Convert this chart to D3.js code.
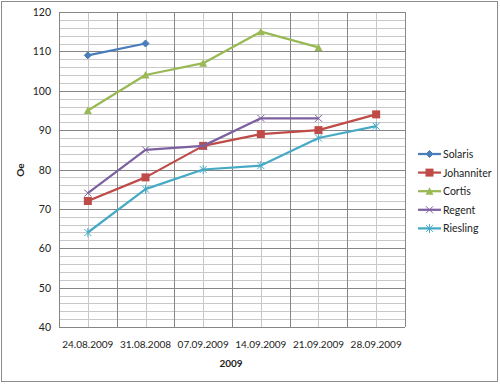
<!DOCTYPE html>
<html>
<head>
<meta charset="utf-8">
<script src="https://cdn.jsdelivr.net/npm/d3@7"></script>
<style>
  body { margin: 0; background: #fff; }
  svg { display: block; font-family: Lato, "Open Sans", sans-serif; }
</style>
</head>
<body>
<svg id="chart" width="500" height="384"></svg>
<script>
// Data
const dates = ['24.08.2009', '31.08.2008', '07.09.2009', '14.09.2009', '21.09.2009', '28.09.2009'];
const solaris = [109, 112, null, null, null, null];
const johanniter = [72, 78, 86, 89, 90, 94];
const cortis = [95, 104, 107, 115, 111, null];
const regent = [74, 85, 86, 93, 93, null];
const riesling = [64, 75, 80, 81, 88, 91];
const seriesNames = ['Solaris', 'Johanniter', 'Cortis', 'Regent', 'Riesling'];
const yTicks = [40, 50, 60, 70, 80, 90, 100, 110, 120];

const series = [
    {name: 'Solaris', values: solaris, color: '#4a7ebb', marker: 'diamond'},
    {name: 'Johanniter', values: johanniter, color: '#be4b48', marker: 'square'},
    {name: 'Cortis', values: cortis, color: '#98b954', marker: 'triangle'},
    {name: 'Regent', values: regent, color: '#7d60a0', marker: 'x'},
    {name: 'Riesling', values: riesling, color: '#46aac5', marker: 'star'}
];

const svg = d3.select('#chart');

// outer border
svg.append('rect')
    .attr('x', 1.5).attr('y', 1.5)
    .attr('width', 496).attr('height', 380)
    .attr('fill', '#fff')
    .attr('stroke', '#8c8c8c');

const margin = {left: 59, top: 12, right: 405, bottom: 327};

const x = d3.scaleBand()
    .domain(dates)
    .range([margin.left, margin.right]);

const y = d3.scaleLinear()
    .domain([40, 120])
    .range([margin.bottom, margin.top]);

const g = svg.append('g');

// minor horizontal gridlines
g.selectAll('.hminor')
    .data(d3.range(40, 121, 2).filter(v => v % 10 != 0))
    .enter().append('line')
    .attr('x1', margin.left).attr('x2', margin.right)
    .attr('y1', d => Math.round(y(d)) + 0.5).attr('y2', d => Math.round(y(d)) + 0.5)
    .attr('stroke', '#c8c8c8');

// minor vertical gridlines (category centers)
g.selectAll('.vminor')
    .data(dates)
    .enter().append('line')
    .attr('x1', d => Math.round(x(d) + x.bandwidth() / 2) + 0.5)
    .attr('x2', d => Math.round(x(d) + x.bandwidth() / 2) + 0.5)
    .attr('y1', margin.top).attr('y2', margin.bottom)
    .attr('stroke', '#c8c8c8');

// major horizontal gridlines
g.selectAll('.hmajor')
    .data(yTicks)
    .enter().append('line')
    .attr('x1', margin.left).attr('x2', margin.right)
    .attr('y1', d => Math.round(y(d)) + 0.5).attr('y2', d => Math.round(y(d)) + 0.5)
    .attr('stroke', '#868686');

// major vertical gridlines (category boundaries)
g.selectAll('.vmajor')
    .data(dates.slice(1).concat(['end']))
    .enter().append('line')
    .attr('x1', (d, i) => Math.round(margin.left + (i + 1) * x.bandwidth()) + 0.5)
    .attr('x2', (d, i) => Math.round(margin.left + (i + 1) * x.bandwidth()) + 0.5)
    .attr('y1', margin.top).attr('y2', margin.bottom)
    .attr('stroke', '#868686');

// axes
g.append('line')
    .attr('x1', margin.left + 0.5).attr('x2', margin.left + 0.5)
    .attr('y1', margin.top).attr('y2', margin.bottom + 0.5)
    .attr('stroke', '#868686');
g.append('line')
    .attr('x1', margin.left).attr('x2', margin.right)
    .attr('y1', margin.bottom + 0.5).attr('y2', margin.bottom + 0.5)
    .attr('stroke', '#868686');

// y tick labels
g.selectAll('.ylab')
    .data(yTicks)
    .enter().append('text')
    .attr('x', 51)
    .attr('y', d => y(d) + 4)
    .attr('text-anchor', 'end')
    .attr('font-size', 10.5)
    .attr('fill', '#222')
    .text(d => d);

// x tick labels
g.selectAll('.xlab')
    .data(dates)
    .enter().append('text')
    .attr('x', d => x(d) + x.bandwidth() / 2)
    .attr('y', 348)
    .attr('text-anchor', 'middle')
    .attr('font-size', 10)
    .attr('fill', '#222')
    .text(d => d);

// axis titles
svg.append('text')
    .attr('x', 231).attr('y', 367)
    .attr('text-anchor', 'middle')
    .attr('font-size', 10)
    .attr('font-weight', 'bold')
    .attr('fill', '#222')
    .text('2009');

svg.append('text')
    .attr('transform', 'translate(24,170) rotate(-90)')
    .attr('text-anchor', 'middle')
    .attr('font-size', 10)
    .attr('font-weight', 'bold')
    .attr('fill', '#222')
    .text('Oe');

// markers
function drawMarker(sel, type, color) {
    if (type == 'diamond') {
        sel.append('path').attr('d', 'M0,-3.5L3.5,0L0,3.5L-3.5,0Z').attr('fill', color).attr('stroke', color);
    } else if (type == 'square') {
        sel.append('rect').attr('x', -4).attr('y', -4).attr('width', 8).attr('height', 8).attr('fill', color);
    } else if (type == 'triangle') {
        sel.append('path').attr('d', 'M0,-4L4,3.5L-4,3.5Z').attr('fill', color);
    } else if (type == 'x') {
        sel.append('path').attr('d', 'M-3.5,-3.5L3.5,3.5M-3.5,3.5L3.5,-3.5').attr('stroke', color).attr('stroke-width', 1);
    } else if (type == 'star') {
        sel.append('path').attr('d', 'M-3.5,-3.5L3.5,3.5M-3.5,3.5L3.5,-3.5M0,-4.5L0,4.5').attr('stroke', color).attr('stroke-width', 1);
    }
}

const line = d3.line()
    .defined(d => d.v != null)
    .x(d => x(d.date) + x.bandwidth() / 2)
    .y(d => y(d.v));

series.forEach(s => {
    let pts = s.values.map((v, i) => ({date: dates[i], v: v}));
    g.append('path')
        .datum(pts)
        .attr('d', line)
        .attr('fill', 'none')
        .attr('stroke', s.color)
        .attr('stroke-width', 2.25)
        .attr('stroke-linejoin', 'round');
    pts.filter(p => p.v != null).forEach(p => {
        let m = g.append('g')
            .attr('transform', `translate(${x(p.date) + x.bandwidth() / 2}, ${y(p.v)})`);
        drawMarker(m, s.marker, s.color);
    });
});

// legend
const legend = svg.append('g');
series.forEach((s, i) => {
    let ly = 154 + i * 18.6;
    legend.append('line')
        .attr('x1', 418).attr('x2', 441)
        .attr('y1', ly).attr('y2', ly)
        .attr('stroke', s.color)
        .attr('stroke-width', 2.25);
    let m = legend.append('g').attr('transform', `translate(429.5, ${ly})`);
    drawMarker(m, s.marker, s.color);
    legend.append('text')
        .attr('x', 443).attr('y', ly + 4)
        .attr('font-size', 10.5)
        .attr('fill', '#222')
        .text(seriesNames[i]);
});
</script>
</body>
</html>
